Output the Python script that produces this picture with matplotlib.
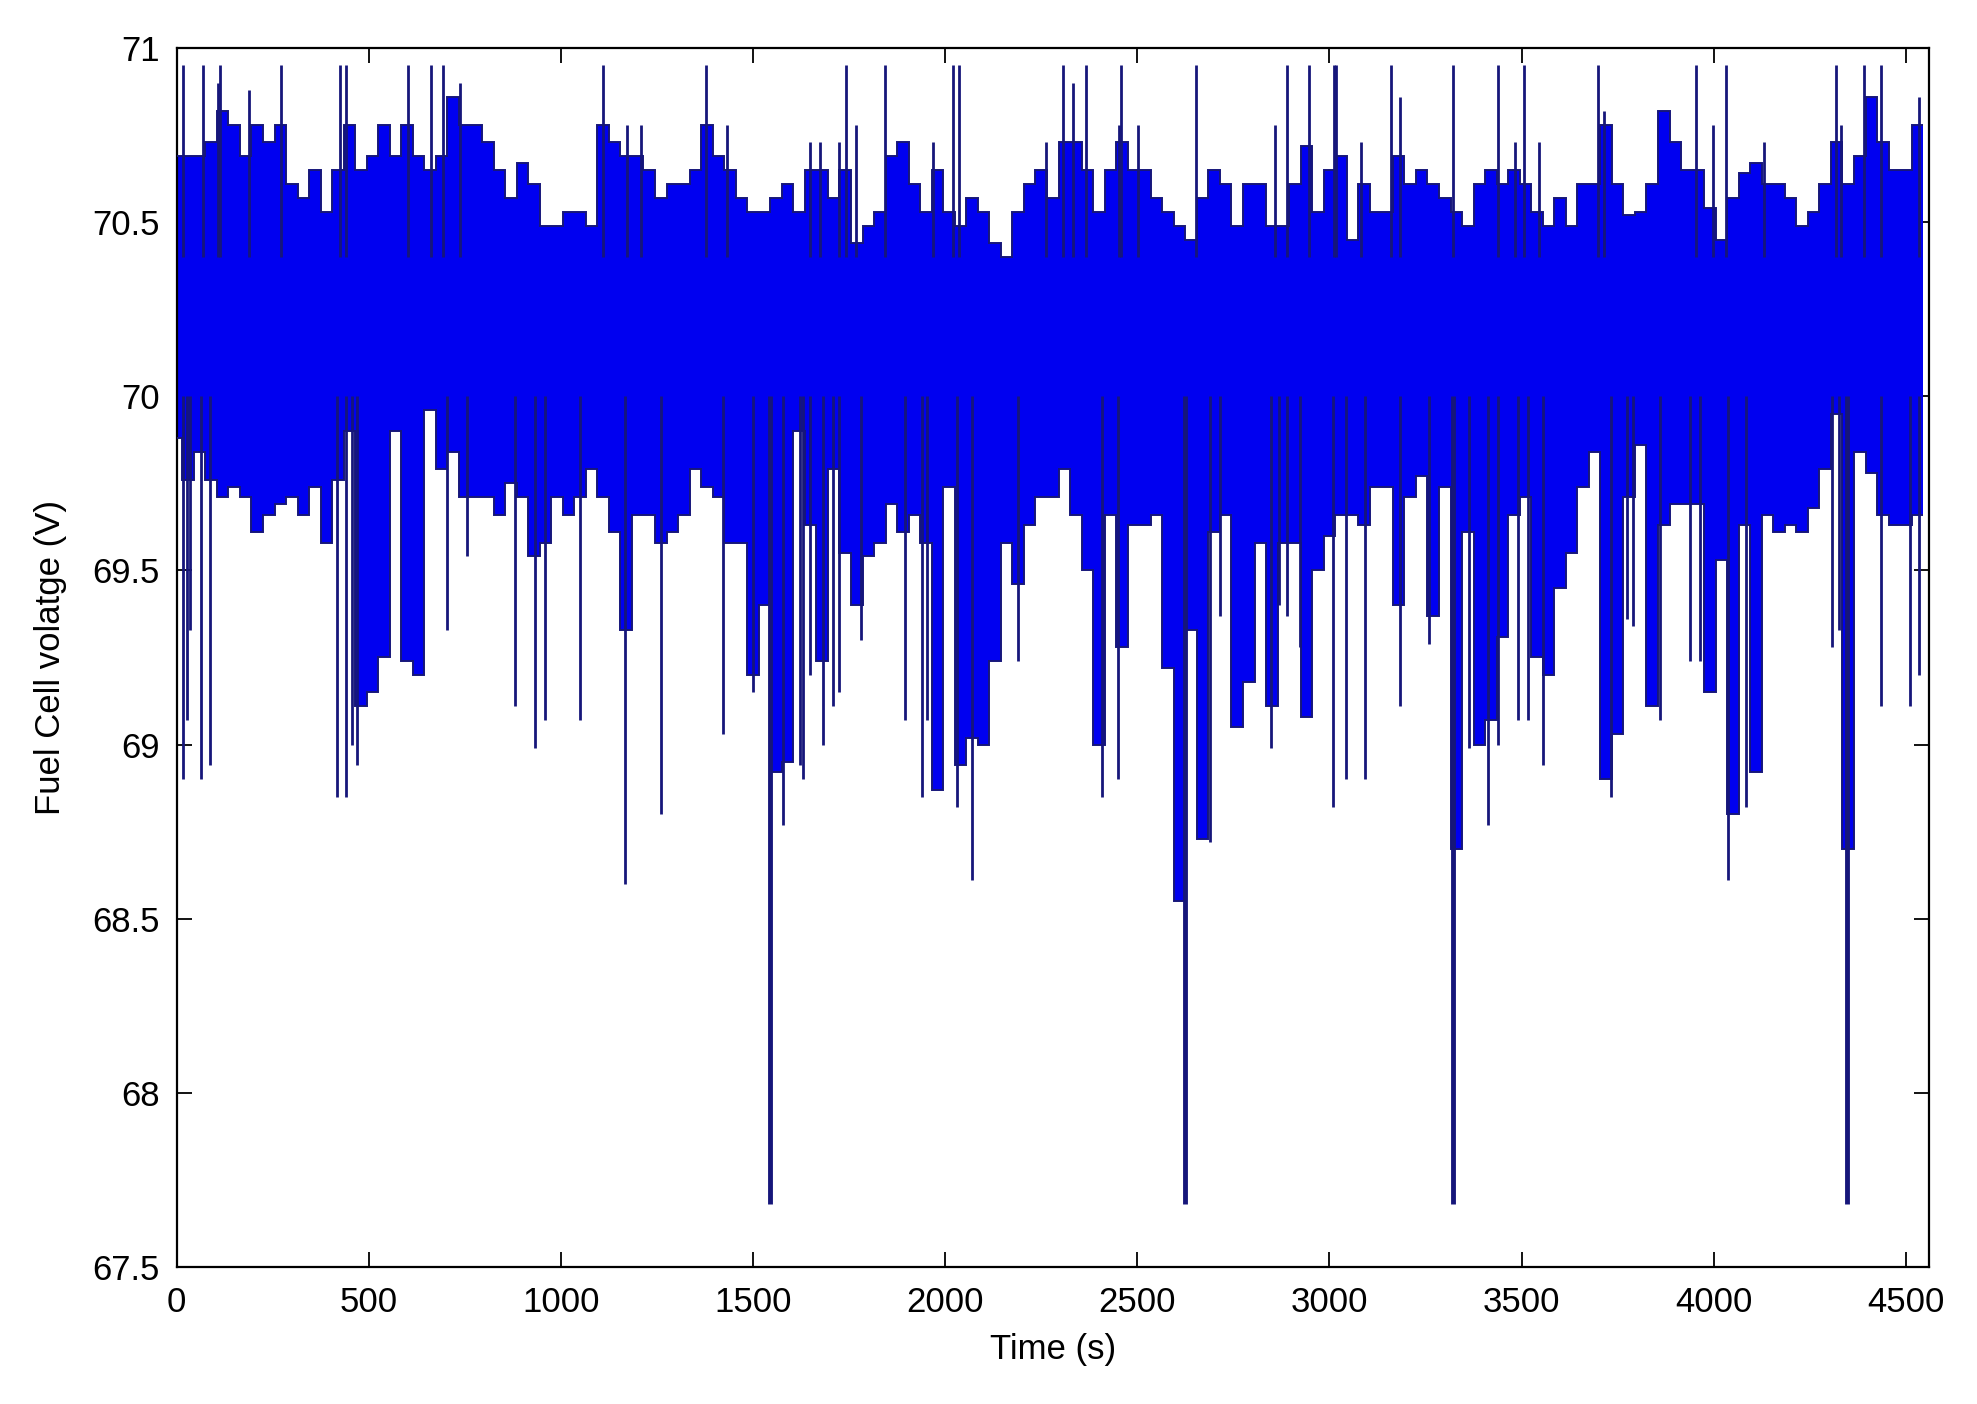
import numpy as np
import matplotlib
matplotlib.use("Agg")
import matplotlib.pyplot as plt

# ---- data ----
# band envelope sampled every 30 s (t = 0 .. 4530)
t_env = list(range(0, 4531, 30))
upper = [70.69, 70.69, 70.69, 70.73, 70.82, 70.78, 70.69, 70.78, 70.73, 70.78,
         70.61, 70.57, 70.65, 70.53, 70.65, 70.78, 70.65, 70.69, 70.78, 70.69,
         70.78, 70.69, 70.65, 70.69, 70.86, 70.78, 70.78, 70.73, 70.65, 70.57,
         70.67, 70.61, 70.49, 70.49, 70.53, 70.53, 70.49, 70.78, 70.73, 70.69,
         70.69, 70.65, 70.57, 70.61, 70.61, 70.65, 70.78, 70.69, 70.65, 70.57,
         70.53, 70.53, 70.57, 70.61, 70.53, 70.65, 70.65, 70.57, 70.65, 70.44,
         70.49, 70.53, 70.69, 70.73, 70.61, 70.53, 70.65, 70.53, 70.49, 70.57,
         70.53, 70.44, 70.40, 70.53, 70.61, 70.65, 70.57, 70.73, 70.73, 70.65,
         70.53, 70.65, 70.73, 70.65, 70.65, 70.57, 70.53, 70.49, 70.45, 70.57,
         70.65, 70.61, 70.49, 70.61, 70.61, 70.49, 70.49, 70.61, 70.72, 70.53,
         70.65, 70.69, 70.45, 70.61, 70.53, 70.53, 70.69, 70.61, 70.65, 70.61,
         70.57, 70.53, 70.49, 70.61, 70.65, 70.61, 70.65, 70.61, 70.53, 70.49,
         70.57, 70.49, 70.61, 70.61, 70.78, 70.61, 70.52, 70.53, 70.61, 70.82,
         70.73, 70.65, 70.65, 70.54, 70.45, 70.57, 70.64, 70.67, 70.61, 70.61,
         70.57, 70.49, 70.53, 70.61, 70.73, 70.61, 70.69, 70.86, 70.73, 70.65,
         70.65, 70.78]
lower = [69.88, 69.76, 69.84, 69.76, 69.71, 69.74, 69.71, 69.61, 69.66, 69.69,
         69.71, 69.66, 69.74, 69.58, 69.76, 69.90, 69.11, 69.15, 69.25, 69.90,
         69.24, 69.20, 69.96, 69.79, 69.84, 69.71, 69.71, 69.71, 69.66, 69.75,
         69.71, 69.54, 69.58, 69.71, 69.66, 69.71, 69.79, 69.71, 69.61, 69.33,
         69.66, 69.66, 69.58, 69.61, 69.66, 69.79, 69.74, 69.71, 69.58, 69.58,
         69.20, 69.40, 68.92, 68.95, 69.90, 69.63, 69.24, 69.79, 69.55, 69.40,
         69.54, 69.58, 69.69, 69.61, 69.66, 69.58, 68.87, 69.74, 68.94, 69.02,
         69.00, 69.24, 69.58, 69.46, 69.63, 69.71, 69.71, 69.79, 69.66, 69.50,
         69.00, 69.66, 69.28, 69.63, 69.63, 69.66, 69.22, 68.55, 69.33, 68.73,
         69.61, 69.66, 69.05, 69.18, 69.58, 69.11, 69.58, 69.58, 69.08, 69.50,
         69.60, 69.66, 69.66, 69.63, 69.74, 69.74, 69.40, 69.71, 69.77, 69.37,
         69.74, 68.70, 69.61, 69.00, 69.07, 69.31, 69.66, 69.71, 69.25, 69.20,
         69.45, 69.55, 69.74, 69.84, 68.90, 69.03, 69.71, 69.86, 69.11, 69.63,
         69.69, 69.69, 69.69, 69.15, 69.53, 68.80, 69.63, 68.92, 69.66, 69.61,
         69.63, 69.61, 69.68, 69.79, 69.95, 68.70, 69.84, 69.78, 69.66, 69.63,
         69.63, 69.66]

# single-sample spikes above the band
up_t = [18, 68, 109, 113, 188, 273, 425, 441, 603, 662, 694, 737, 1110, 1171,
        1209, 1379, 1433, 1648, 1674, 1724, 1743, 1768, 1843, 1969, 2021, 2036,
        2263, 2307, 2333, 2366, 2453, 2458, 2502, 2653, 2858, 2889, 2948, 3013,
        3016, 3082, 3160, 3184, 3321, 3438, 3484, 3505, 3546, 3700, 3714, 3954,
        3997, 4031, 4130, 4317, 4332, 4392, 4434, 4535]
up_v = [70.95, 70.95, 70.90, 70.95, 70.88, 70.95, 70.95, 70.95, 70.95, 70.95,
        70.95, 70.90, 70.95, 70.78, 70.78, 70.95, 70.78, 70.73, 70.73, 70.73,
        70.95, 70.78, 70.95, 70.73, 70.95, 70.95, 70.73, 70.95, 70.90, 70.95,
        70.78, 70.95, 70.78, 70.95, 70.78, 70.95, 70.95, 70.95, 70.95, 70.73,
        70.95, 70.86, 70.95, 70.95, 70.73, 70.95, 70.73, 70.95, 70.82, 70.95,
        70.78, 70.95, 70.73, 70.95, 70.78, 70.95, 70.95, 70.86]

# single-sample spikes below the band
dn_t = [18, 27, 35, 63, 87, 417, 441, 456, 469, 703, 755, 880, 932, 958, 1049,
        1168, 1261, 1422, 1500, 1544, 1579, 1622, 1631, 1648, 1683, 1709, 1724,
        1781, 1895, 1939, 1952, 2030, 2071, 2190, 2409, 2451, 2625, 2690, 2714,
        2849, 2870, 2889, 2924, 3009, 3042, 3093, 3184, 3260, 3322, 3362, 3412,
        3438, 3490, 3516, 3555, 3733, 3774, 3791, 3861, 3937, 3963, 4038, 4085,
        4308, 4325, 4347, 4436, 4511, 4535]
dn_v = [68.90, 69.07, 69.33, 68.90, 68.94, 68.85, 68.85, 69.00, 68.94, 69.33,
        69.54, 69.11, 68.99, 69.07, 69.07, 68.60, 68.80, 69.03, 69.15, 67.68,
        68.77, 68.94, 68.90, 69.20, 69.00, 69.11, 69.15, 69.30, 69.07, 68.85,
        69.07, 68.82, 68.61, 69.24, 68.85, 68.90, 67.68, 68.72, 69.37, 68.99,
        69.40, 69.37, 69.28, 68.82, 68.90, 68.90, 69.11, 69.29, 67.68, 68.99,
        68.77, 69.00, 69.07, 69.07, 68.94, 68.85, 69.36, 69.34, 69.07, 69.24,
        69.24, 68.61, 68.82, 69.28, 69.33, 67.68, 69.11, 69.11, 69.20]

x_ticks = [0, 500, 1000, 1500, 2000, 2500, 3000, 3500, 4000, 4500]
y_ticks = [67.5, 68, 68.5, 69, 69.5, 70, 70.5, 71]
y_labels = ["67.5", "68", "68.5", "69", "69.5", "70", "70.5", "71"]

# ---- drawing ----
plt.rcParams['font.family'] = ['Liberation Sans', 'DejaVu Sans']
BLUE = '#0000f0'
DARK = '#16167a'

fig = plt.figure(figsize=(19.77, 14.04), dpi=100)
fig.patch.set_facecolor('white')
ax = fig.add_axes([0.0893, 0.0976, 0.8864, 0.8682])

t_arr = np.array(t_env, dtype=float)
half = (t_arr[1] - t_arr[0]) / 2
edges = np.append(t_arr - half, t_arr[-1] + half)
edges = np.clip(edges, 0, 4545)

ax.stairs(upper, edges, baseline=lower, fill=True, color=BLUE, lw=0, zorder=2)
ax.stairs(upper, edges, baseline=None, color=DARK, lw=1.4, zorder=3)
ax.stairs(lower, edges, baseline=None, color=DARK, lw=1.4, zorder=3)

up_t_a = np.array(up_t, dtype=float)
ax.vlines(up_t_a, 70.4, up_v, color=DARK, lw=2.0, zorder=3)

dn_v_a = np.array(dn_v)
deep = dn_v_a < 68.0
dn_t_a = np.array(dn_t, dtype=float)
ax.vlines(dn_t_a[~deep], 70.0, dn_v_a[~deep], color=DARK, lw=2.0, zorder=3)
ax.vlines(dn_t_a[deep], 70.0, dn_v_a[deep], color=DARK, lw=3.5, zorder=3)

ax.set_xlim(0, 4560)
ax.set_ylim(67.5, 71)
ax.set_xticks(x_ticks)
ax.set_xticklabels([str(v) for v in x_ticks])
ax.set_yticks(y_ticks)
ax.set_yticklabels(y_labels)
ax.tick_params(direction='in', length=11, width=1.3, labelsize=25,
               top=True, right=True, colors='black')
ax.tick_params(axis='x', pad=14)
ax.tick_params(axis='y', pad=12)
for s in ax.spines.values():
    s.set_linewidth(1.6)
    s.set_color('black')

ax.set_xlabel('Time (s)', fontsize=25, labelpad=10)
ax.set_ylabel('Fuel Cell volatge (V)', fontsize=25, labelpad=18)

fig.savefig('out.png', dpi=100, facecolor='white')
